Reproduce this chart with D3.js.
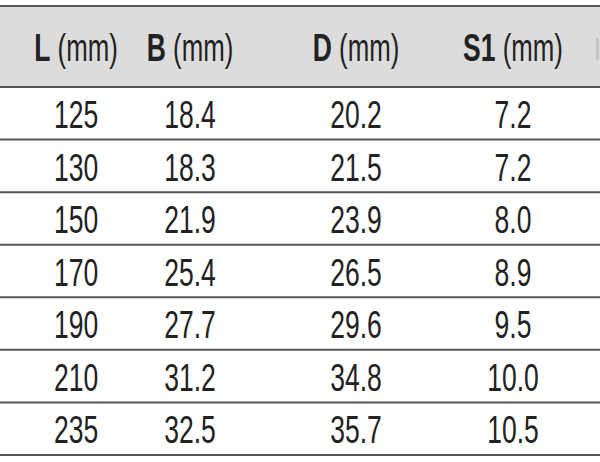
<!DOCTYPE html><html><head><meta charset="utf-8">
<script src="https://cdn.jsdelivr.net/npm/d3@7"></script>
<style>body{margin:0;background:#fff}</style></head><body><svg id="c" width="600" height="462"></svg>
<script>
const headers=["L","B","D","S1"];
const colL=[125,130,150,170,190,210,235];
const colB=["18.4","18.3","21.9","25.4","27.7","31.2","32.5"];
const colD=["20.2","21.5","23.9","26.5","29.6","34.8","35.7"];
const colS1=["7.2","7.2","8.0","8.9","9.5","10.0","10.5"];
const cols=[colL,colB,colD,colS1];
const svg=d3.select("#c");
const font="'Liberation Sans',Arial,sans-serif";
const sx=0.68;
const xc=d3.scaleOrdinal().domain(headers).range([76,190,356,513]);
const y=d3.scaleLinear().domain([0,7]).range([87,455]);
svg.append("rect").attr("x",0).attr("y",6).attr("width",600).attr("height",81).attr("fill","#dcdcdc");
svg.append("line").attr("x1",0).attr("x2",600).attr("y1",6).attr("y2",6).attr("stroke","#555").attr("stroke-width",2);
svg.append("rect").attr("x",596).attr("y",38).attr("width",3).attr("height",22).attr("fill","#c4c4c4");
headers.forEach(h=>{
  const g=svg.append("g").attr("transform",`translate(${xc(h)},61) scale(${sx},1)`);
  const t=g.append("text").attr("text-anchor","middle").attr("font-family",font).attr("fill","#222");
  t.append("tspan").attr("font-weight","bold").attr("font-size",39).text(h);
  t.append("tspan").attr("font-size",38).text(" (mm)");
});
for(let i=0;i<=7;i++) svg.append("line").attr("x1",0).attr("x2",600).attr("y1",y(i)).attr("y2",y(i)).attr("stroke","#555").attr("stroke-width",2);
cols.forEach((c,j)=>{
  svg.selectAll(null).data(c).enter().append("g")
    .attr("transform",(d,i)=>`translate(${xc(headers[j])},${y(i)+41}) scale(${sx},1)`)
    .append("text").attr("text-anchor","middle").attr("font-family",font).attr("font-size",39).attr("fill","#222").text(d=>d);
});
</script></body></html>
